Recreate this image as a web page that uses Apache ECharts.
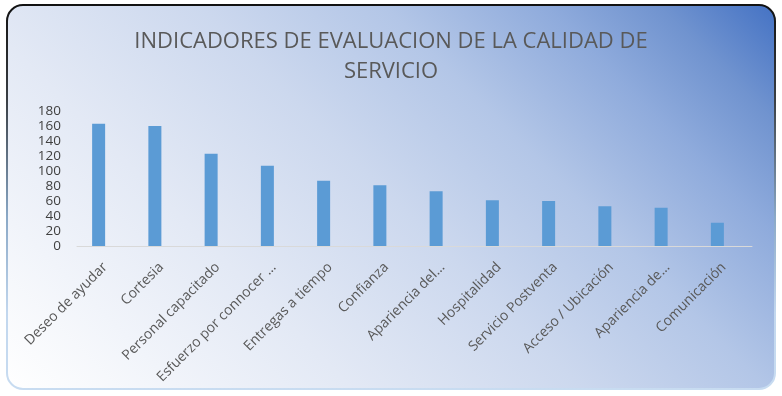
<!DOCTYPE html>
<html><head><meta charset="utf-8">
<script src="https://cdn.jsdelivr.net/npm/echarts@6/dist/echarts.min.js"></script>
<style>html,body{margin:0;padding:0;background:#fff}#c{width:782px;height:396px}</style>
</head><body><div id="c"></div>
<script>
var titleText = "INDICADORES DE EVALUACION DE LA CALIDAD DE\nSERVICIO";
var categories = ["Deseo de ayudar","Cortesia","Personal capacitado","Esfuerzo por connocer ...","Entregas a tiempo","Confianza","Apariencia del...","Hospitalidad","Servicio Postventa","Acceso / Ubicación","Apariencia de...","Comunicación"];
var values = [163,160,123,107,87,81,73,61,60,53,51,31];
var yTicks = [0,20,40,60,80,100,120,140,160,180];

var chart = echarts.init(document.getElementById('c'), null, {renderer:'canvas'});
chart.setOption({
  animation:false,
  graphic:[{
    type:'rect', z:-10, silent:true,
    shape:{x:7,y:5,width:768,height:384,r:16},
    style:{
      fill:new echarts.graphic.LinearGradient(7,389,583,-187,[
        {offset:0,color:'#ffffff'},
        {offset:0.3,color:'#e3e9f5'},
        {offset:0.5,color:'#ccd8ee'},
        {offset:0.66,color:'#b3c6e7'},
        {offset:0.8,color:'#8fabdc'},
        {offset:0.9,color:'#7093cf'},
        {offset:1,color:'#4472c4'}], true),
      stroke:new echarts.graphic.LinearGradient(0,0,0,1,[
        {offset:0,color:'#111111'},
        {offset:0.25,color:'#3a3f45'},
        {offset:0.55,color:'#8aa8c6'},
        {offset:0.8,color:'#c2d7ee'},
        {offset:1,color:'#c8dcf1'}]),
      lineWidth:2
    }
  }],
  title:{
    text:titleText, left:'center', top:22,
    textStyle:{fontFamily:'Open Sans, sans-serif',fontWeight:'normal',fontSize:22,color:'#595959',lineHeight:30}
  },
  grid:{left:77,right:30,top:111,bottom:150,containLabel:false},
  xAxis:{
    type:'category', data:categories,
    axisLine:{show:true,lineStyle:{color:'#d9d9d9',width:1}},
    axisTick:{show:false},
    axisLabel:{interval:0,rotate:45,margin:19,fontFamily:'Open Sans, sans-serif',fontSize:14,color:'#595959'}
  },
  yAxis:{
    type:'value', min:yTicks[0], max:yTicks[yTicks.length-1], interval:20,
    axisLine:{show:false}, axisTick:{show:false}, splitLine:{show:false},
    axisLabel:{margin:16,fontFamily:'Open Sans, sans-serif',fontSize:13.5,color:'#404040'}
  },
  series:[
    {type:'bar',data:values,barWidth:13,barGap:'0%',itemStyle:{color:'#5b9bd5'}},
    {type:'bar',data:values.map(function(){return '-';}),barWidth:13}
  ]
});
</script></body></html>
